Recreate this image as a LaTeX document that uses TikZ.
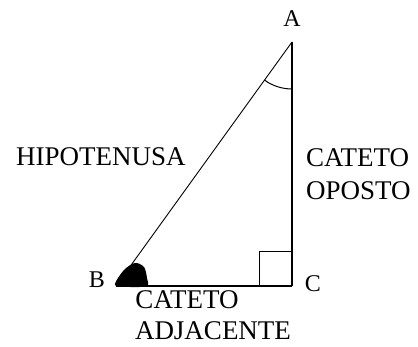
\documentclass[tikz,border=0pt]{standalone}
\usepackage{fontspec}
\setmainfont{Liberation Serif}
\usetikzlibrary{calc, angles}
\tikzset{
  every picture/.style={x=1pt, y=1pt},
  leg/.style={draw=black, line width=1.6pt},
  hyp/.style={draw=black, line width=0.9pt},
  vlabel/.style={font=\fontsize{24}{29}\selectfont, inner sep=0pt},
  side/.style={font=\fontsize{27}{32.5}\selectfont, inner sep=0pt, align=left},
}

\begin{document}
\begin{tikzpicture}
  \useasboundingbox (0,0) rectangle (418,347);
  \coordinate (A) at (292,305);
  \coordinate (C) at (292,61);
  \coordinate (B) at (116,61);
  % triangle sides
  \draw[leg] (A) -- (C);
  \draw[leg] (C) -- (B);
  \draw[hyp] (B) -- (A);
  % angle marks
  \pic[draw, line width=1pt, angle radius=47pt] {angle = B--A--C};
  \draw[line width=1pt] ($(C)+(-33,0)$) |- ($(C)+(0,34)$);
  \fill[black] plot[smooth cycle] coordinates {($(B)+(-1,1)$) ($(B)+(8,16)$) ($(B)+(19,23)$) ($(B)+(28,19)$) ($(B)+(31,8)$) ($(B)+(31,0)$) ($(B)+(14,-1)$)};
  % vertex labels
  \node[vlabel] (la) at (292,328) {A};
  \node[vlabel] (lb) at (97,67) {B};
  \node[vlabel] (lc) at (313,63) {C};
  % side labels
  \node[side] (hip) at (101,190) {HIPOTENUSA};
  \node[side, anchor=west] (op) at (306,173) {CATETO\\OPOSTO};
  \node[side] (adj1) at (187,47) {CATETO};
  \node[side] (adj2) at (213,16) {ADJACENTE};
\end{tikzpicture}
\end{document}
